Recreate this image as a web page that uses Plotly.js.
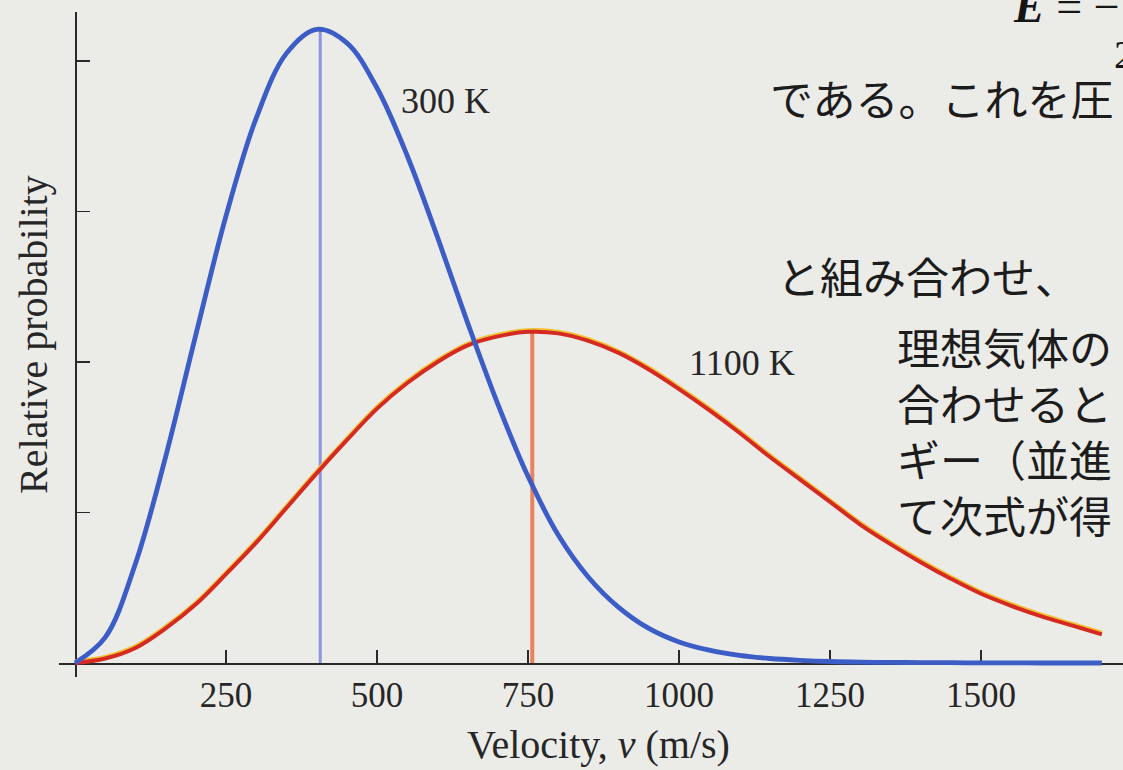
<!DOCTYPE html>
<html>
<head>
<meta charset="utf-8">
<script src="https://cdn.plot.ly/plotly-3.0.1.min.js"></script>
<style>html,body{margin:0;padding:0;background:#ebebe8;}#chart{width:1123px;height:770px;}</style>
</head>
<body>
<div id="chart"></div>
<script>
// ---- data ----
const velocity = [0,50,100,150,200,250,300,350,400,450,500,550,600,650,700,750,800,850,900,950,1000,1050,1100,1150,1200,1250,1300,1350,1400,1450,1500,1550,1600,1650,1700];
const prob300K = [0,0.17,0.66,1.37,2.18,2.97,3.62,4.05,4.21,4.12,3.82,3.37,2.83,2.26,1.72,1.24,0.85,0.57,0.37,0.23,0.14,0.085,0.05,0.03,0.018,0.01,0.006,0.004,0.003,0.002,0.001,0.001,0,0,0];
const prob1100K = [0,0.03,0.10,0.23,0.39,0.59,0.80,1.03,1.26,1.48,1.69,1.86,2.00,2.11,2.17,2.20,2.19,2.14,2.06,1.95,1.82,1.68,1.53,1.37,1.22,1.07,0.92,0.79,0.67,0.56,0.46,0.38,0.31,0.25,0.19];
const peakVelocity = [406, 757];
const peakProb = [4.21, 2.20];
const seriesLabels = ["300 K", "1100 K"];
const xTickVals = [250,500,750,1000,1250,1500];
const yTickVals = [1,2,3,4];

// ---- layout helpers (pixel -> paper) ----
const W = 1123, H = 770, ML = 59, MR = 0, MT = 12, MB = 93;
const PW = W - ML - MR, PH = H - MT - MB;
const px = x => (x - ML) / PW;
const py = y => (H - MB - y) / PH;
const xRange = [-26.5, 1735];
const yRange = [-0.093, 4.325];
const edgeShift = 0.011; // small offset so the yellow fringe shows on the upper side of the red curve

const serif = "Liberation Serif, Times New Roman, serif";
const jp = "Noto Sans CJK JP, sans-serif";

const traces = [
  {x:[peakVelocity[0],peakVelocity[0]], y:[0,peakProb[0]], mode:'lines', line:{color:'#9092e2', width:3}, hoverinfo:'skip'},
  {x:[peakVelocity[1],peakVelocity[1]], y:[0,peakProb[1]], mode:'lines', line:{color:'#e9835f', width:4}, hoverinfo:'skip'},
  {x:velocity, y:prob1100K, yaxis:'y2', mode:'lines', line:{color:'#f2c030', width:4, shape:'spline'}, hoverinfo:'skip'},
  {x:velocity, y:prob1100K, yaxis:'y3', mode:'lines', line:{color:'#d42a22', width:4, shape:'spline'}, name:seriesLabels[1]},
  {x:velocity, y:prob300K, yaxis:'y3', mode:'lines', line:{color:'#3c5cc6', width:4.8, shape:'spline'}, name:seriesLabels[0]}
];

const ann = (x, y, text, size, extra) => Object.assign({
  xref:'paper', yref:'paper', x:px(x), y:py(y), text:text, showarrow:false,
  font:{family:serif, size:size, color:'#262626'}, xanchor:'center', yanchor:'middle'
}, extra || {});
const jpFont = {family:jp, size:43, color:'#1c1c1c'};

const layout = {
  width:W, height:H,
  margin:{l:ML, r:MR, t:MT, b:MB, pad:0},
  paper_bgcolor:'#ebebe8', plot_bgcolor:'rgba(0,0,0,0)',
  showlegend:false,
  xaxis:{
    range:xRange, anchor:'free', position:(0 - yRange[0])/(yRange[1]-yRange[0]),
    showline:true, linecolor:'#2a2a2a', linewidth:1.8, layer:'below traces',
    showgrid:false, zeroline:false,
    tickmode:'array', tickvals:xTickVals, ticktext:xTickVals.map(String),
    ticks:'inside', ticklen:13, tickwidth:1.5, tickcolor:'#2a2a2a',
    tickfont:{family:serif, size:35, color:'#262626'}
  },
  yaxis:{
    range:yRange, anchor:'free', position:(0 - xRange[0])/(xRange[1]-xRange[0]),
    showline:true, linecolor:'#2a2a2a', linewidth:1.8, layer:'below traces',
    showgrid:false, zeroline:false,
    tickmode:'array', tickvals:yTickVals, showticklabels:false,
    ticks:'inside', ticklen:13, tickwidth:1.5, tickcolor:'#2a2a2a'
  },
  yaxis2:{
    range:[yRange[0]-edgeShift, yRange[1]-edgeShift], overlaying:'y', anchor:'x',
    visible:false, showgrid:false, zeroline:false
  },
  yaxis3:{
    range:yRange, overlaying:'y', anchor:'x',
    visible:false, showgrid:false, zeroline:false
  },
  annotations:[
    ann(598, 745, 'Velocity, <i>v</i> (m/s)', 40),
    ann(33, 335, 'Relative probability', 40, {textangle:-90}),
    ann(445, 101, seriesLabels[0], 36),
    ann(742, 363, seriesLabels[1], 36),
    ann(1011, 6, '<b><i>E</i></b> = \u2212', 46, {xanchor:'left', font:{family:serif, size:46, color:'#151515'}}),
    ann(1112, 55, '2', 40, {xanchor:'left', font:{family:serif, size:40, color:'#151515'}}),
    ann(768, 97, 'である。これを圧', 43, {xanchor:'left', font:jpFont}),
    ann(775, 275, 'と組み合わせ、', 43, {xanchor:'left', font:jpFont}),
    ann(895, 430, '理想気体の<br>合わせると<br>ギー（並進<br>て次式が得', 43, {xanchor:'left', align:'left', font:jpFont})
  ]
};

Plotly.newPlot('chart', traces, layout, {displayModeBar:false, staticPlot:true});
</script>
</body>
</html>
